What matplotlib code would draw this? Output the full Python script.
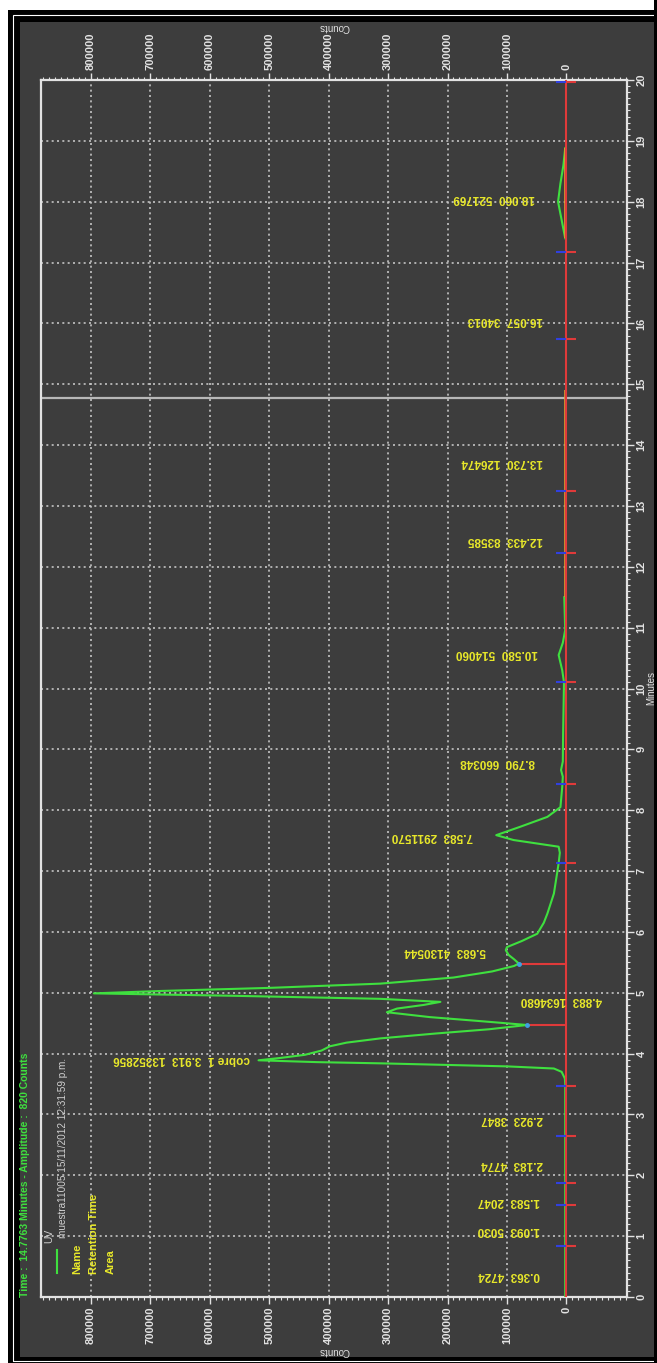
import matplotlib
matplotlib.use("Agg")
import matplotlib.pyplot as plt
from matplotlib.patches import Rectangle
from matplotlib.lines import Line2D
from matplotlib.ticker import MultipleLocator

plt.rcParams['font.family'] = ['Liberation Sans', 'DejaVu Sans']

# --- UV trace (minutes, counts) -------------------------------------
trace_min = [0.0, 3.50, 3.59, 3.70, 3.755, 3.79, 3.84, 3.86, 3.89, 3.93, 3.98,
             4.05, 4.12, 4.18, 4.25, 4.33, 4.40, 4.47, 4.53, 4.60, 4.68, 4.74,
             4.80, 4.85, 4.90, 4.95, 4.99, 5.03, 5.08, 5.15, 5.25, 5.35, 5.44,
             5.48, 5.55, 5.62, 5.70, 5.75, 5.85, 5.97, 6.15, 6.30, 6.63, 6.96,
             7.13, 7.30, 7.40, 7.51, 7.59, 7.73, 7.89, 8.05, 8.38, 8.55, 8.66,
             8.80, 9.26, 10.10, 10.30, 10.55, 10.75, 10.96, 11.50]
trace_counts = [2000, 2000, 2500, 8000, 21000, 100000, 313000, 420000, 518000,
                480000, 440000, 412000, 398000, 370000, 313000, 220000, 130000,
                66000, 140000, 230000, 302000, 285000, 240000, 212000, 313000,
                560000, 795000, 680000, 500000, 313000, 190000, 125000, 88000,
                80000, 88000, 97000, 102000, 100000, 75000, 49000, 38000, 32000,
                21000, 15700, 13000, 11000, 13000, 89000, 118000, 77000, 32000,
                10000, 7000, 6000, 9000, 6000, 5500, 4000, 7000, 13000, 6000,
                2000, 3500]

# small late peak around 18 min
bump_min = [17.40, 17.70, 18.00, 18.30, 18.60, 18.88]
bump_counts = [2000, 8000, 14000, 10000, 5000, 2000]

# integration baseline segments (minutes)
baseline_start = [11.5, 17.4]
baseline_end = [14.9, 18.88]
baseline_level = 1500

# peak start/end event marks and valley drop lines
event_min = [0.83, 1.51, 1.88, 2.64, 3.46, 7.13, 8.43, 10.10, 12.22, 13.25,
             15.74, 17.17, 19.97]
drop_min = [4.47, 5.48]
drop_counts = [66000, 80000]

# peak annotations
peak_rt = [0.363, 1.093, 1.583, 2.183, 2.923, 3.913, 4.883, 5.683, 7.583,
           8.790, 10.580, 12.433, 13.730, 16.057, 18.060]
peak_area = [4724, 5030, 2047, 4774, 3847, 13352856, 1634680, 4130544,
             2911570, 660348, 514060, 83585, 126474, 34013, 521769]
peak_name = ['', '', '', '', '', 'cobre 1', '', '', '', '', '', '', '', '', '']
# label anchor (right end of text, in counts)
label_anchor = [44000, 44000, 44000, 39000, 39000, 532000, -60000, 136000,
                157000, 52000, 47000, 40000, 40000, 40000, 52000]

cursor_min = 14.7763
amplitude = 820

# --- colours ---------------------------------------------------------
PANEL = '#3d3d3d'
FG = '#e2e2e2'
GREEN = '#3fe03f'
RED = '#e03a3a'
BLUE = '#3040e0'
YELLOW = '#e8e82a'
ORANGE = '#e0a030'

W, H = 657, 1363


def fx(px):
    return px / W


def fy(py):
    return 1 - py / H


fig = plt.figure(figsize=(W / 100, H / 100), dpi=100)
fig.patch.set_facecolor('white')

# double black border and dark panel
fig.add_artist(Rectangle((fx(8), fy(1363)), fx(660) - fx(8), fy(10) - fy(1363),
                         transform=fig.transFigure, facecolor='black',
                         edgecolor='none', zorder=-3))
fig.add_artist(Rectangle((fx(13), fy(1361)), fx(670) - fx(13), fy(15) - fy(1361),
                         transform=fig.transFigure, facecolor='none',
                         edgecolor='white', lw=0.8, zorder=-2))
fig.add_artist(Rectangle((fx(20), fy(1357)), fx(654) - fx(20), fy(22) - fy(1357),
                         transform=fig.transFigure, facecolor=PANEL,
                         edgecolor='none', zorder=-1))

ax = fig.add_axes([fx(41), fy(1297), fx(627) - fx(41), fy(80) - fy(1297)])
ax.set_facecolor(PANEL)
ax.set_xlim(884000, -102000)
ax.set_ylim(0, 20)

for s in ax.spines.values():
    s.set_color(FG)
    s.set_linewidth(1.6)

ax.xaxis.set_major_locator(MultipleLocator(100000))
ax.xaxis.set_minor_locator(MultipleLocator(10000))
ax.yaxis.set_major_locator(MultipleLocator(1))
ax.yaxis.set_minor_locator(MultipleLocator(0.1))
ax.set_xticks(range(0, 800001, 100000))
ax.set_xticklabels([str(v) for v in range(0, 800001, 100000)])
ax.yaxis.tick_right()
ax.tick_params(axis='x', which='both', top=True, bottom=True, labeltop=True,
               labelbottom=True, direction='out', color=FG, labelcolor=FG,
               labelsize=8, labelrotation=90, pad=2)
ax.tick_params(axis='y', which='both', left=False, right=True, labelleft=False,
               labelright=True, direction='out', color=FG, labelcolor=FG,
               labelsize=8, labelrotation=90, pad=2)
ax.tick_params(which='major', length=5, width=1)
ax.tick_params(which='minor', length=2.5, width=0.8)
for lab in ax.get_yticklabels() + ax.get_xticklabels():
    lab.set_fontweight('bold')
for lab in ax.get_yticklabels():
    lab.set_va('center')

ax.grid(True, which='major', color='#c4c4c4', linestyle=(0, (1.2, 2.0)), lw=1.2)

# time cursor
ax.axhline(cursor_min, color='#b8b8b8', lw=1.6, zorder=2)

# trace and baselines
ax.plot(trace_counts, trace_min, color=GREEN, lw=1.5, zorder=3)
ax.plot(bump_counts, bump_min, color=GREEN, lw=1.5, zorder=3)
ax.vlines([baseline_level] * len(baseline_start), baseline_start, baseline_end,
          color=ORANGE, lw=1.2, zorder=4)

# zero line, drop lines, event marks
ax.axvline(0, color=RED, lw=1.5, zorder=5)
ax.hlines(drop_min, 0, drop_counts, color=RED, lw=1.5, zorder=5)
ax.plot(drop_counts, drop_min, 'o', color='#40a0e0', ms=2.5, zorder=6)
ax.hlines(event_min, 0, 17000, color=BLUE, lw=1.5, zorder=5)
ax.hlines(event_min, -17000, 0, color=RED, lw=1.5, zorder=5)

for rt, area, name, anchor in zip(peak_rt, peak_area, peak_name, label_anchor):
    txt = f"{rt:.3f}  {area}"
    if name:
        txt = f"{name}  {txt}"
    ax.text(anchor, rt, txt, rotation=180, ha='right', va='center',
            color=YELLOW, fontsize=8.5, fontweight='bold', zorder=7)

# axis titles
fig.text(fx(334), fy(27), 'Counts', rotation=180, ha='center', va='center',
         color=FG, fontsize=7)
fig.text(fx(334), fy(1351), 'Counts', rotation=180, ha='center', va='center',
         color=FG, fontsize=7)
fig.text(fx(651), fy(688), 'Minutes', rotation=90, ha='center', va='center',
         color=FG, fontsize=7)

# status line and legend
fig.text(fx(25), fy(1297),
         f"Time :  {cursor_min:.4f} Minutes - Amplitude :  {amplitude} Counts",
         rotation=90, ha='center', va='bottom', color=GREEN, fontsize=7.5,
         fontweight='bold')
fig.text(fx(49), fy(1243), 'UV', rotation=90, ha='center', va='bottom',
         color='#d0d0d0', fontsize=7.5)
fig.text(fx(63), fy(1238), 'muestra11005 15/11/2012 12:31:59 p.m.', rotation=90,
         ha='center', va='bottom', color='#d0d0d0', fontsize=7.2)
fig.add_artist(Line2D([fx(57), fx(57)], [fy(1273), fy(1250)],
                      transform=fig.transFigure, color=GREEN, lw=1.5))
for xpos, s in zip([77, 94, 111], ['Name', 'Retention Time', 'Area']):
    fig.text(fx(xpos), fy(1274), s, rotation=90, ha='center', va='bottom',
             color=YELLOW, fontsize=8, fontweight='bold')

# right border strip over the panel edge
fig.add_artist(Rectangle((fx(654), 0), fx(W) - fx(654), 1,
                         transform=fig.transFigure, facecolor='black',
                         edgecolor='none', zorder=10))

fig.savefig("out.png", dpi=100, facecolor='white')
